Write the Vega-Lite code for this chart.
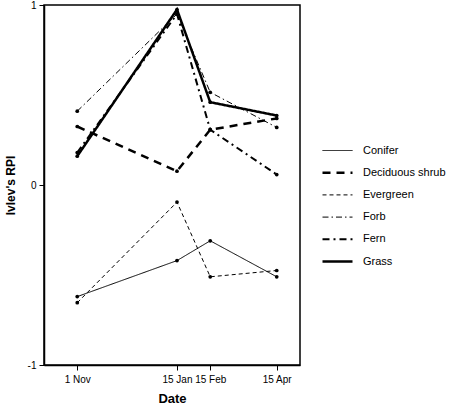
{
  "$schema": "https://vega.github.io/schema/vega-lite/v6.json",
  "width": 256,
  "height": 360,
  "autosize": "none",
  "padding": {"left": 44, "top": 5, "right": 150, "bottom": 43},
  "background": "white",
  "data": {
    "values": [
      {"type": "Conifer", "date": "1 Nov", "t": 0, "rpi": -0.62},
      {"type": "Conifer", "date": "15 Jan", "t": 3, "rpi": -0.42},
      {"type": "Conifer", "date": "15 Feb", "t": 4, "rpi": -0.31},
      {"type": "Conifer", "date": "15 Apr", "t": 6, "rpi": -0.51},
      {"type": "Deciduous shrub", "date": "1 Nov", "t": 0, "rpi": 0.325},
      {"type": "Deciduous shrub", "date": "15 Jan", "t": 3, "rpi": 0.077},
      {"type": "Deciduous shrub", "date": "15 Feb", "t": 4, "rpi": 0.307},
      {"type": "Deciduous shrub", "date": "15 Apr", "t": 6, "rpi": 0.37},
      {"type": "Evergreen", "date": "1 Nov", "t": 0, "rpi": -0.654},
      {"type": "Evergreen", "date": "15 Jan", "t": 3, "rpi": -0.095},
      {"type": "Evergreen", "date": "15 Feb", "t": 4, "rpi": -0.51},
      {"type": "Evergreen", "date": "15 Apr", "t": 6, "rpi": -0.475},
      {"type": "Forb", "date": "1 Nov", "t": 0, "rpi": 0.41},
      {"type": "Forb", "date": "15 Jan", "t": 3, "rpi": 0.95},
      {"type": "Forb", "date": "15 Feb", "t": 4, "rpi": 0.515},
      {"type": "Forb", "date": "15 Apr", "t": 6, "rpi": 0.32},
      {"type": "Fern", "date": "1 Nov", "t": 0, "rpi": 0.18},
      {"type": "Fern", "date": "15 Jan", "t": 3, "rpi": 0.95},
      {"type": "Fern", "date": "15 Feb", "t": 4, "rpi": 0.307},
      {"type": "Fern", "date": "15 Apr", "t": 6, "rpi": 0.058},
      {"type": "Grass", "date": "1 Nov", "t": 0, "rpi": 0.16},
      {"type": "Grass", "date": "15 Jan", "t": 3, "rpi": 0.975},
      {"type": "Grass", "date": "15 Feb", "t": 4, "rpi": 0.46},
      {"type": "Grass", "date": "15 Apr", "t": 6, "rpi": 0.386}
    ]
  },
  "encoding": {
    "x": {
      "field": "t",
      "type": "quantitative",
      "scale": {"domain": [-1, 6.7], "nice": false, "zero": false},
      "axis": {
        "title": "Date",
        "values": [0, 3, 4, 6],
        "labelExpr": "datum.value == 0 ? '1 Nov' : datum.value == 3 ? '15 Jan' : datum.value == 4 ? '15 Feb' : '15 Apr'",
        "labelPadding": 4,
        "titlePadding": 8,
        "titleFontSize": 13
      }
    },
    "y": {
      "field": "rpi",
      "type": "quantitative",
      "scale": {"domain": [-1, 1], "nice": false},
      "axis": {
        "title": "Ivlev's RPI",
        "values": [-1, 0, 1],
        "labelExpr": "datum.value > 0.5 ? '1' : datum.value < -0.5 ? '-1' : '0'",
        "labelPadding": 3,
        "titlePadding": 10
      }
    }
  },
  "layer": [
    {
      "mark": {"type": "line", "color": "black"},
      "encoding": {
        "detail": {"field": "type"},
        "strokeDash": {
          "field": "type",
          "type": "ordinal",
          "sort": ["Conifer", "Deciduous shrub", "Evergreen", "Forb", "Fern", "Grass"],
          "scale": {"type": "ordinal", "range": [[1, 0], [8, 6], [4, 3], [6, 3, 1.5, 3], [7, 4, 2, 4], [1, 0]]},
          "legend": {
            "title": null,
            "encode": {
              "symbols": {
                "update": {
                  "strokeWidth": {"signal": "datum.value == 'Deciduous shrub' || datum.value == 'Grass' ? 2.5 : datum.value == 'Fern' ? 2 : 1"}
                }
              }
            }
          }
        },
        "strokeWidth": {
          "field": "type",
          "type": "ordinal",
          "sort": ["Conifer", "Deciduous shrub", "Evergreen", "Forb", "Fern", "Grass"],
          "scale": {"type": "ordinal", "range": [1, 2.5, 1, 1, 2, 2.5]},
          "legend": null
        }
      }
    },
    {
      "mark": {"type": "point", "filled": true, "color": "black", "size": 14, "opacity": 1}
    }
  ],
  "config": {
    "font": "Liberation Sans",
    "view": {"stroke": "black", "strokeWidth": 1.5},
    "axis": {
      "domainColor": "black",
      "tickColor": "black",
      "labelColor": "black",
      "titleColor": "black",
      "labelFontSize": 10,
      "titleFontSize": 12,
      "titleFontWeight": "bold",
      "grid": false,
      "tickSize": 5,
      "domainWidth": 1.5
    },
    "legend": {
      "orient": "none",
      "legendX": 288,
      "legendY": 140,
      "symbolType": "stroke",
      "symbolSize": 900,
      "symbolStrokeColor": "black",
      "labelFontSize": 11,
      "labelFontWeight": "normal",
      "labelColor": "black",
      "labelOffset": 20,
      "rowPadding": 10.2
    }
  }
}
